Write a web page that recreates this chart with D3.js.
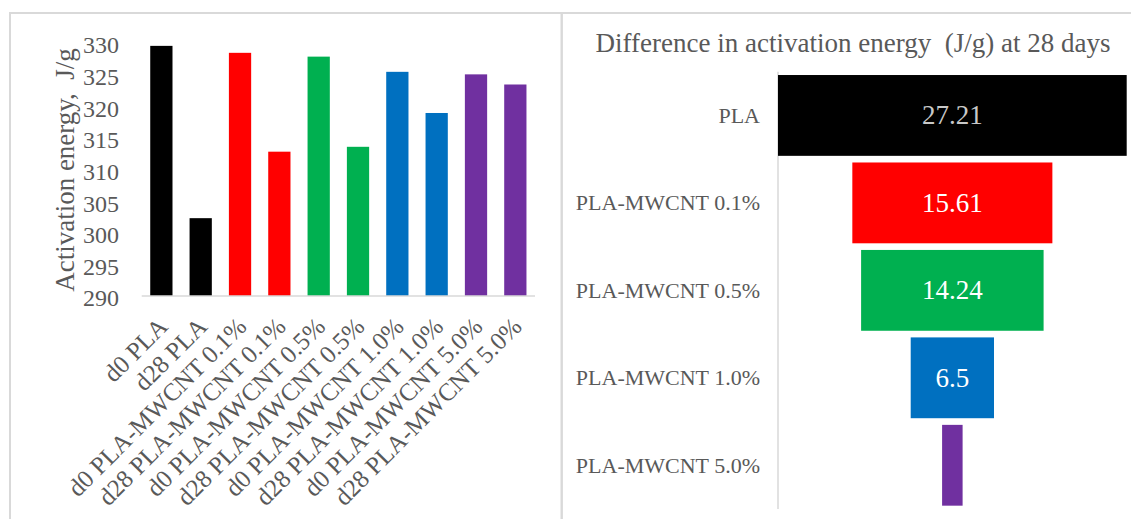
<!DOCTYPE html>
<html>
<head>
<meta charset="utf-8">
<script src="https://cdn.jsdelivr.net/npm/d3@7"></script>
<style>
  html, body { margin: 0; padding: 0; background: #ffffff; }
  svg { display: block; }
  text { font-family: "Liberation Serif", "Times New Roman", serif; fill: #595959; }
</style>
</head>
<body>
<svg id="chart" width="1131" height="519"></svg>
<script>
// Activation energy per sample (J/g), day 0 vs day 28
const categories = [
  "d0 PLA", "d28 PLA",
  "d0 PLA-MWCNT 0.1%", "d28 PLA-MWCNT 0.1%",
  "d0 PLA-MWCNT 0.5%", "d28 PLA-MWCNT 0.5%",
  "d0 PLA-MWCNT 1.0%", "d28 PLA-MWCNT 1.0%",
  "d0 PLA-MWCNT 5.0%", "d28 PLA-MWCNT 5.0%"
];
const energyValues = [329.5, 302.29, 328.4, 312.79, 327.8, 313.56, 325.4, 318.9, 325.0, 323.4];
const yTicks = [290, 295, 300, 305, 310, 315, 320, 325, 330];

// Drop in activation energy after 28 days
const funnelCategories = ["PLA", "PLA-MWCNT 0.1%", "PLA-MWCNT 0.5%", "PLA-MWCNT 1.0%", "PLA-MWCNT 5.0%"];
const funnelValues = [27.21, 15.61, 14.24, 6.5, 1.6];
const funnelLabels = ["27.21", "15.61", "14.24", "6.5", ""];

const groupColors = ["#000000", "#FF0000", "#00B050", "#0070C0", "#7030A0"];

const svg = d3.select("#chart");

// Panel frames
svg.append("rect").attr("x", 10).attr("y", 13).attr("width", 551.7).attr("height", 530)
  .attr("fill", "none").attr("stroke", "#d9d9d9").attr("stroke-width", 2);
svg.append("rect").attr("x", 561.7).attr("y", 13).attr("width", 600).attr("height", 530)
  .attr("fill", "none").attr("stroke", "#d9d9d9").attr("stroke-width", 2);

// ---------- Left: column chart ----------
const x = d3.scaleBand().domain(categories).range([141.7, 535])
  .paddingInner(0.434).paddingOuter(0.217);
const y = d3.scaleLinear().domain([290, 330]).range([296, 42.7]);

const left = svg.append("g");

left.selectAll("rect.bar").data(energyValues).join("rect")
  .attr("class", "bar")
  .attr("x", (d, i) => x(categories[i]))
  .attr("width", x.bandwidth())
  .attr("y", d => y(d))
  .attr("height", d => y(290) - y(d))
  .attr("fill", (d, i) => groupColors[Math.floor(i / 2)]);

// Baseline
left.append("line")
  .attr("x1", 141.7).attr("x2", 535)
  .attr("y1", y(290)).attr("y2", y(290))
  .attr("stroke", "#d9d9d9").attr("stroke-width", 1.5);

// Y axis (labels only)
const yAxis = d3.axisLeft(y).tickValues(yTicks).tickSize(0).tickPadding(0);
const yG = left.append("g").attr("transform", "translate(119,0)").call(yAxis);
yG.select(".domain").remove();
yG.selectAll("text")
  .attr("font-size", 24)
  .attr("fill", "#595959")
  .attr("font-family", "Liberation Serif, Times New Roman, serif")
  .attr("dy", "0.32em")
  .attr("transform", "translate(0,2.3)");

// Y axis title
left.append("text")
  .attr("transform", "translate(65,170) rotate(-90)")
  .attr("text-anchor", "middle")
  .attr("dominant-baseline", "central")
  .attr("font-size", 27)
  .attr("xml:space", "preserve")
  .text("Activation energy,\u00A0 J/g");

// X axis category labels (rotated)
const xAxis = d3.axisBottom(x).tickSize(0).tickPadding(0);
const xG = left.append("g").attr("transform", `translate(0,${y(290)})`).call(xAxis);
xG.select(".domain").remove();
xG.selectAll("text")
  .attr("font-size", 25)
  .attr("fill", "#595959")
  .attr("font-family", "Liberation Serif, Times New Roman, serif")
  .attr("text-anchor", "end")
  .attr("dy", null)
  .attr("y", 0)
  .attr("transform", "translate(8,32) rotate(-45)");

// ---------- Right: funnel chart ----------
const right = svg.append("g");

right.append("text")
  .attr("x", 853).attr("y", 52)
  .attr("text-anchor", "middle")
  .attr("font-size", 27)
  .text("Difference in activation energy\u00A0 (J/g) at 28 days");

const fy = d3.scaleBand().domain(funnelCategories).range([71.7, 509])
  .paddingInner(0.076).paddingOuter(0.038);
const fw = d3.scaleLinear().domain([0, d3.max(funnelValues)]).range([0, 348.7]);
const fcx = 778 + 348.7 / 2;

right.append("line")
  .attr("x1", 778).attr("x2", 778)
  .attr("y1", 71.7).attr("y2", 509)
  .attr("stroke", "#d9d9d9").attr("stroke-width", 1.5);

right.selectAll("rect.fbar").data(funnelValues).join("rect")
  .attr("class", "fbar")
  .attr("x", d => fcx - fw(d) / 2)
  .attr("width", d => fw(d))
  .attr("y", (d, i) => fy(funnelCategories[i]))
  .attr("height", fy.bandwidth())
  .attr("fill", (d, i) => groupColors[i]);

right.selectAll("text.fval").data(funnelValues).join("text")
  .attr("class", "fval")
  .attr("x", fcx)
  .attr("y", (d, i) => fy(funnelCategories[i]) + fy.bandwidth() / 2)
  .attr("text-anchor", "middle")
  .attr("dominant-baseline", "central")
  .attr("font-size", 27)
  .style("fill", (d, i) => i === 0 ? "#c8c8c8" : "#ffffff")
  .text((d, i) => funnelLabels[i]);

right.selectAll("text.fcat").data(funnelCategories).join("text")
  .attr("class", "fcat")
  .attr("x", 760)
  .attr("y", d => fy(d) + fy.bandwidth() / 2)
  .attr("text-anchor", "end")
  .attr("dominant-baseline", "central")
  .attr("font-size", 22)
  .text(d => d);
</script>
</body>
</html>
